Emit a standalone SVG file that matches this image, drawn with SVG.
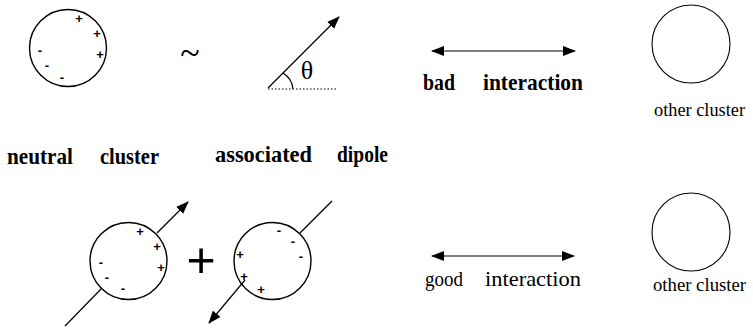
<svg xmlns="http://www.w3.org/2000/svg" width="753" height="330" viewBox="0 0 753 330">
<defs>
<marker id="ah" viewBox="0 0 13 10" refX="12" refY="5" markerWidth="13" markerHeight="10" markerUnits="userSpaceOnUse" orient="auto-start-reverse">
<path d="M0,0 L13,5 L0,10 Z" fill="#000"/>
</marker>
</defs>
<style>
.c{fill:none;stroke:#000;stroke-width:1.4}
.oc{fill:none;stroke:#000;stroke-width:1.1}
.ln{fill:none;stroke:#000;stroke-width:1.2}
.q{font-family:"Liberation Sans",Arial,sans-serif;font-weight:bold;font-size:13px;text-anchor:middle;fill:#000}
.lb{font-family:"Liberation Serif","Times New Roman",serif;font-weight:bold;font-size:23px;fill:#000}
.lr{font-family:"Liberation Serif","Times New Roman",serif;font-size:22px;fill:#000}
.ot{font-family:"Liberation Serif","Times New Roman",serif;font-size:19px;fill:#000}
</style>
<rect width="753" height="330" fill="#fff"/>

<g id="neutral-cluster">
<circle class="c" cx="68" cy="48" r="38.5"/>
<text class="q" x="79" y="23">+</text>
<text class="q" x="97" y="38">+</text>
<text class="q" x="100" y="59">+</text>
<text class="q" x="40" y="55">-</text>
<text class="q" x="47" y="70">-</text>
<text class="q" x="62" y="82">-</text>
</g>

<g id="tilde">
<text x="190" y="65" font-family="Liberation Serif,serif" font-size="36" text-anchor="middle">~</text>
</g>

<g id="dipole">
<line x1="268" y1="88" x2="339" y2="17" class="ln" marker-end="url(#ah)"/>
<line x1="268" y1="89" x2="338" y2="89" stroke="#000" stroke-width="1.2" stroke-dasharray="1.5 2"/>
<path d="M283,73 A21,21 0 0 1 293,89" class="ln"/>
<text x="307" y="79" font-family="Liberation Serif,serif" font-size="26" text-anchor="middle">θ</text>
</g>

<g id="labels-row1">
<text class="lb" x="7" y="164" textLength="66" lengthAdjust="spacingAndGlyphs">neutral</text>
<text class="lb" x="100" y="164" textLength="59" lengthAdjust="spacingAndGlyphs">cluster</text>
<text class="lb" x="215" y="162" textLength="97" lengthAdjust="spacingAndGlyphs">associated</text>
<text class="lb" x="337" y="162" textLength="51" lengthAdjust="spacingAndGlyphs">dipole</text>
</g>

<g id="bad-interaction">
<text class="lb" x="423" y="90" textLength="32" lengthAdjust="spacingAndGlyphs">bad</text>
<text class="lb" x="483" y="90" textLength="100" lengthAdjust="spacingAndGlyphs">interaction</text>
</g>

<g id="other-cluster-top">
<circle class="oc" cx="691" cy="44" r="39"/>
<text class="ot" x="654" y="116" textLength="91" lengthAdjust="spacingAndGlyphs">other cluster</text>
</g>

<g id="dipole-cluster-1">
<circle class="c" cx="128.5" cy="261" r="38.5"/>
<text class="q" x="140" y="236">+</text>
<text class="q" x="157" y="251">+</text>
<text class="q" x="161" y="272">+</text>
<text class="q" x="101" y="267">-</text>
<text class="q" x="107" y="282">-</text>
<text class="q" x="123" y="293">-</text>
</g>

<g id="plus-sign">
<text x="201" y="277" font-family="Liberation Sans,Arial,sans-serif" font-size="50" text-anchor="middle">+</text>
</g>

<g id="dipole-cluster-2">
<circle class="c" cx="272.5" cy="261" r="38.5"/>
<text class="q" x="240" y="259">+</text>
<text class="q" x="244" y="281">+</text>
<text class="q" x="261" y="294">+</text>
<text class="q" x="279" y="235">-</text>
<text class="q" x="293" y="246">-</text>
<text class="q" x="301" y="261">-</text>
</g>

<g id="good-interaction">
<text class="lr" x="425" y="286" textLength="38" lengthAdjust="spacingAndGlyphs">good</text>
<text class="lr" x="485" y="286" textLength="96" lengthAdjust="spacingAndGlyphs">interaction</text>
</g>

<g id="other-cluster-bottom">
<circle class="oc" cx="691" cy="232" r="39"/>
<text class="ot" x="653" y="291" textLength="93" lengthAdjust="spacingAndGlyphs">other cluster</text>
</g>

<g id="connectors">
<line x1="432" y1="51" x2="575" y2="51" class="ln" marker-start="url(#ah)" marker-end="url(#ah)"/>
<line x1="432" y1="256" x2="574" y2="256" class="ln" marker-start="url(#ah)" marker-end="url(#ah)"/>
<line x1="65" y1="326" x2="102" y2="288" class="ln"/>
<line x1="157" y1="233" x2="188" y2="202" class="ln" marker-end="url(#ah)"/>
<line x1="332" y1="201" x2="300" y2="233" class="ln"/>
<line x1="245" y1="280" x2="209" y2="323" class="ln" marker-end="url(#ah)"/>
</g>
</svg>
